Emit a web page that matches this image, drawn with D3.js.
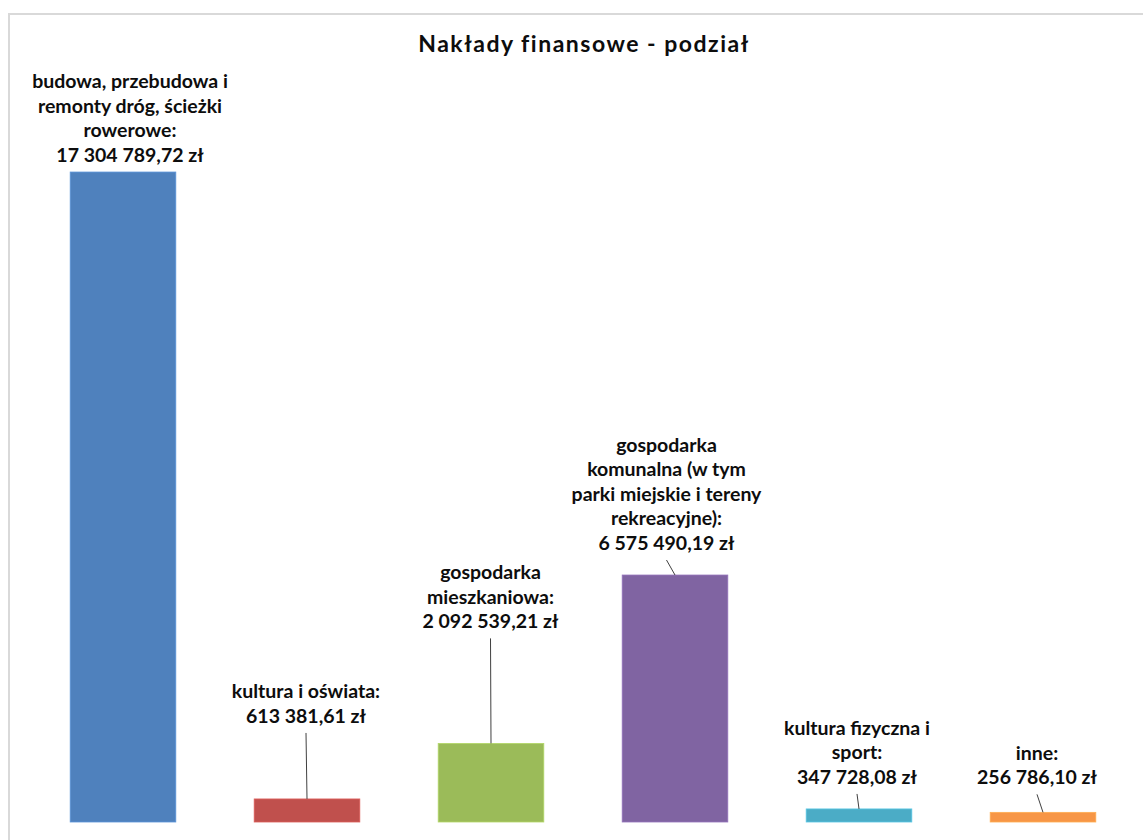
<!DOCTYPE html>
<html><head><meta charset="utf-8">
<script src="https://cdn.jsdelivr.net/npm/d3@7"></script>
<style>
html,body{margin:0;padding:0;background:#fff;}
svg{display:block;}
text{font-family:Lato,"Noto Sans",sans-serif;font-weight:bold;fill:#0d0d0d;}
</style></head><body>
<svg id="chart" width="1143" height="840"></svg>
<script>
const title = "Nakłady finansowe - podział";
const categories = [
  ["budowa, przebudowa i", "remonty dróg, ścieżki", "rowerowe:"],
  ["kultura i oświata:"],
  ["gospodarka", "mieszkaniowa:"],
  ["gospodarka", "komunalna (w tym", "parki miejskie i tereny", "rekreacyjne):"],
  ["kultura fizyczna i", "sport:"],
  ["inne:"]
];
const values = [17304789.72, 613381.61, 2092539.21, 6575490.19, 347728.08, 256786.10];
const valueLabels = ["17 304 789,72 zł", "613 381,61 zł", "2 092 539,21 zł", "6 575 490,19 zł", "347 728,08 zł", "256 786,10 zł"];
const colors = ["#4f81bd", "#c0504d", "#9bbb59", "#8064a2", "#4bacc6", "#f79646"];
// label layout: horizontal shift of label centre from bar centre, lift of last baseline above bar top, leader line?
const labelLayout = [
  {dx: 7, lift: 10, leader: false},
  {dx: -1, lift: 76, leader: true},
  {dx: -0.5, lift: 115, leader: true},
  {dx: -8.5, lift: 25, leader: true},
  {dx: -2, lift: 25, leader: true},
  {dx: -6, lift: 28, leader: true}
];

const svg = d3.select("#chart");
const W = 1143, H = 840;

// outer chart border
svg.append("rect").attr("x", 9).attr("y", 14).attr("width", W + 10).attr("height", H + 10)
  .attr("fill", "#fff").attr("stroke", "#d9d9d9").attr("stroke-width", 2);

svg.append("text").attr("x", 584).attr("y", 52).attr("text-anchor", "middle")
  .style("font-size", "23px").style("letter-spacing", "1.5px").text(title);

const idx = d3.range(values.length);
const x = d3.scaleBand().domain(idx).range([31, 1135]).paddingInner(0.426).paddingOuter(0.213);
const y = d3.scaleLinear().domain([0, 20000000]).range([822, 70.8]);

const g = svg.append("g");
g.selectAll("rect.bar").data(idx).join("rect").attr("class", "bar")
  .attr("x", i => x(i)).attr("width", x.bandwidth())
  .attr("y", i => y(values[i])).attr("height", i => y(0) - y(values[i]))
  .attr("fill", i => colors[i])
  .attr("stroke", i => d3.color(colors[i]).brighter(0.4)).attr("stroke-width", 0.8);

const lineH = 24.6;
idx.forEach(i => {
  const lay = labelLayout[i];
  const cx = x(i) + x.bandwidth() / 2;
  const top = y(values[i]);
  const lines = categories[i].concat([valueLabels[i]]);
  const lastBase = top - lay.lift;
  const lx = cx + lay.dx;
  const t = g.append("text").attr("text-anchor", "middle").style("font-size", "19.5px");
  lines.forEach((ln, k) => {
    t.append("tspan").attr("x", lx).attr("y", lastBase - (lines.length - 1 - k) * lineH).text(ln);
  });
  if (lay.leader) {
    g.append("line").attr("x1", lx).attr("y1", lastBase + 10).attr("x2", cx).attr("y2", top)
      .attr("stroke", "#404040").attr("stroke-width", 1);
  }
});
</script>
</body></html>
